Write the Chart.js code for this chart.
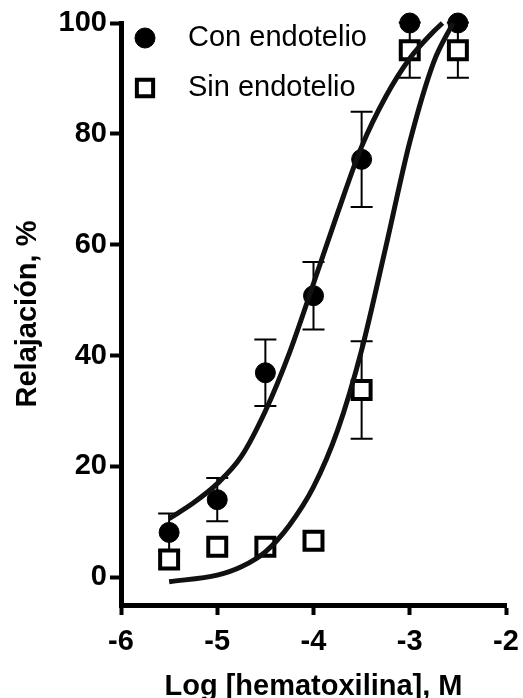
<!DOCTYPE html>
<html>
<head>
<meta charset="utf-8">
<script src="https://cdn.jsdelivr.net/npm/chart.js@4/dist/chart.umd.min.js"></script>
<style>
  html, body { margin: 0; padding: 0; background: #fff; }
  canvas { display: block; }
</style>
</head>
<body>
<canvas id="chart" width="523" height="698"></canvas>
<script>
// log [hematoxilina], M
const doses = [-5.5, -5, -4.5, -4, -3.5, -3, -2.5];
// relajacion media, % (+/- error)
const conEndotelio = [8.1, 14.0, 36.9, 50.8, 75.4, 100, 100];
const conError = [3.4, 3.9, 6.0, 6.1, 8.6, 0, 0];
const sinEndotelio = [3.2, 5.5, 5.5, 6.6, 33.8, 95.1, 95.1];
const sinError = [0, 0, 0, 0, 8.8, 5, 5];

// curvas ajustadas
const conFitX = [-5.5, -5.25, -5, -4.75, -4.5, -4.25, -4, -3.75, -3.5, -3.25, -3, -2.75, -2.66];
const conFitY = [10.6, 13.4, 16.9, 21.8, 30.0, 40.5, 53.0, 65.7, 77.7, 86.7, 93.6, 98.5, 100];
const sinFitX = [-5.5, -5, -4.75, -4.5, -4.25, -4, -3.75, -3.5, -3.25, -3, -2.75, -2.55];
const sinFitY = [-0.8, 0.4, 1.9, 4.6, 9.4, 16.3, 26.5, 41.0, 59.5, 78.5, 93.0, 100];

const xTicks = [-6, -5, -4, -3, -2];
const yTicks = [0, 20, 40, 60, 80, 100];

const FONT = '"Liberation Sans", Arial, sans-serif';
const SIZE = 29;

function toPoints(xs, ys) {
    return xs.map((x, i) => ({x: x, y: ys[i]}));
}

// barras de error debajo de los simbolos
const errorBars = {
    id: 'errorBars',
    beforeDatasetsDraw(chart) {
        const ctx = chart.ctx;
        const xs = chart.scales.x, ys = chart.scales.y;
        ctx.save();
        ctx.strokeStyle = '#000';
        ctx.lineWidth = 2;
        chart.data.datasets.forEach(ds => {
            if (!ds.errors) return;
            ds.data.forEach((p, i) => {
                const e = ds.errors[i];
                if (!e) return;
                const px = xs.getPixelForValue(p.x);
                const top = ys.getPixelForValue(p.y + e);
                const bot = ys.getPixelForValue(p.y - e);
                ctx.beginPath();
                ctx.moveTo(px, top); ctx.lineTo(px, bot);
                ctx.moveTo(px - 11, top); ctx.lineTo(px + 11, top);
                ctx.moveTo(px - 11, bot); ctx.lineTo(px + 11, bot);
                ctx.stroke();
            });
        });
        ctx.restore();
    }
};

// leyenda dentro del area del grafico
const sideLegend = {
    id: 'sideLegend',
    afterDraw(chart) {
        const ctx = chart.ctx;
        const items = chart.data.datasets.filter(ds => ds.inLegend);
        ctx.save();
        ctx.font = SIZE + 'px ' + FONT;
        ctx.textBaseline = 'middle';
        items.forEach((ds, i) => {
            const cy = 38 + i * 50;
            ctx.fillStyle = ds.backgroundColor;
            ctx.strokeStyle = '#000';
            ctx.lineWidth = ds.pointBorderWidth;
            Chart.helpers.drawPoint(ctx, {
                pointStyle: ds.pointStyle,
                radius: ds.pointStyle === 'rect' ? 11.5 : 10,
                borderWidth: ds.pointBorderWidth,
                rotation: 0
            }, 145, cy);
            ctx.fillStyle = '#000';
            ctx.fillText(ds.label, 188, cy);
        });
        ctx.restore();
    }
};

new Chart(document.getElementById('chart'), {
    type: 'scatter',
    data: {
        datasets: [
            {
                label: 'Con endotelio fit',
                data: toPoints(conFitX, conFitY),
                showLine: true,
                borderColor: '#111',
                borderWidth: 5,
                pointRadius: 0,
                cubicInterpolationMode: 'monotone',
                order: 0
            },
            {
                label: 'Sin endotelio fit',
                data: toPoints(sinFitX, sinFitY),
                showLine: true,
                borderColor: '#111',
                borderWidth: 5,
                pointRadius: 0,
                cubicInterpolationMode: 'monotone',
                order: 0
            },
            {
                label: 'Con endotelio',
                data: toPoints(doses, conEndotelio),
                errors: conError,
                inLegend: true,
                pointStyle: 'circle',
                pointRadius: 10,
                backgroundColor: '#000',
                borderColor: '#000',
                pointBorderWidth: 1,
                order: 2
            },
            {
                label: 'Sin endotelio',
                data: toPoints(doses, sinEndotelio),
                errors: sinError,
                inLegend: true,
                pointStyle: 'rect',
                pointRadius: 12.7,
                backgroundColor: '#fff',
                borderColor: '#000',
                pointBorderWidth: 4,
                order: 1
            }
        ]
    },
    options: {
        responsive: false,
        animation: false,
        clip: false,
        layout: {padding: {top: 23, right: 17, bottom: 0, left: 0}},
        plugins: {
            legend: {display: false},
            tooltip: {enabled: false}
        },
        scales: {
            x: {
                type: 'linear',
                min: -6,
                max: -2,
                afterBuildTicks: scale => { scale.ticks = xTicks.map(v => ({value: v})); },
                afterFit: scale => {
                    scale.height = 93;
                    scale.paddingLeft = 0;
                    scale.paddingRight = 12;
                },
                border: {display: true, color: '#000', width: 5},
                grid: {drawOnChartArea: false, drawTicks: true, tickLength: 10, tickWidth: 4, tickColor: '#000'},
                ticks: {
                    color: '#000',
                    padding: 10,
                    maxRotation: 0,
                    font: {family: FONT, size: SIZE, weight: 'bold'}
                },
                title: {
                    display: true,
                    text: 'Log [hematoxilina], M',
                    color: '#000',
                    padding: {top: 0, bottom: -3},
                    font: {family: FONT, size: SIZE, weight: 'bold', lineHeight: 1}
                }
            },
            y: {
                type: 'linear',
                min: -5,
                max: 100,
                afterBuildTicks: scale => { scale.ticks = yTicks.map(v => ({value: v})); },
                afterFit: scale => { scale.width = 121; },
                border: {display: true, color: '#000', width: 5},
                grid: {drawOnChartArea: false, drawTicks: true, tickLength: 11, tickWidth: 4, tickColor: '#000'},
                ticks: {
                    color: '#000',
                    padding: 3,
                    font: {family: FONT, size: SIZE, weight: 'bold'}
                },
                title: {
                    display: true,
                    text: 'Relajación, %',
                    color: '#000',
                    padding: {top: 13, bottom: 0},
                    font: {family: FONT, size: SIZE, weight: 'bold', lineHeight: 1}
                }
            }
        }
    },
    plugins: [errorBars, sideLegend]
});
</script>
</body>
</html>
